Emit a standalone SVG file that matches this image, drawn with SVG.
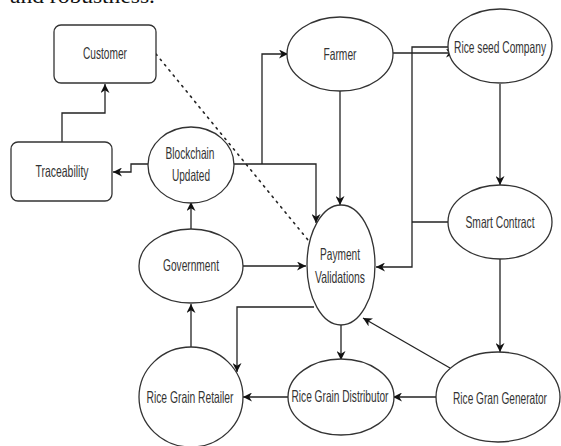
<svg xmlns="http://www.w3.org/2000/svg" width="561" height="446" viewBox="0 0 561 446">
<defs>
<marker id="arr" viewBox="0 0 10 10" refX="10" refY="5" markerWidth="9" markerHeight="9" markerUnits="userSpaceOnUse" orient="auto">
<path d="M0,0 L10,5 L0,10 L3,5 z" fill="#111"/>
</marker>
<style>
.n{fill:#fff;stroke:#333;stroke-width:1.3}
.t{font-family:"Liberation Sans",Arial,sans-serif;font-size:16.5px;fill:#333;text-anchor:middle}
.c{fill:none;stroke:#222;stroke-width:1.3}
.a{marker-end:url(#arr)}
.d{stroke-dasharray:1.6 5.2;stroke-linecap:round;stroke-width:1.6}
</style>
</defs>
<rect width="561" height="446" fill="#fff"/>
<text x="10" y="3" font-family="Liberation Serif,serif" font-size="22" fill="#111" textLength="145" lengthAdjust="spacingAndGlyphs">and robustness.</text>
<g id="connectors">
<path class="c a" d="M62,142 V113 H105 V84"/>
<path class="c a" d="M148,164 H131 V172 H113"/>
<path class="c a" d="M234,164 H316 V223"/>
<path class="c a" d="M262,164 V54 H288"/>
<path class="c a" d="M340,91 V205"/>
<path class="c a" d="M393,53 H455"/>
<path class="c a" d="M448,47 H412 V267 H376"/>
<path class="c" d="M449,222 H412"/>
<path class="c a" d="M500,84 V185"/>
<path class="c a" d="M500,259 V352"/>
<path class="c a" d="M450,368 L363,318"/>
<path class="c a" d="M436,397 H393"/>
<path class="c a" d="M341,325 V360"/>
<path class="c a" d="M314,307 H237 V372"/>
<path class="c a" d="M288,397 H243"/>
<path class="c a" d="M191,347 V304"/>
<path class="c a" d="M243,266 H306"/>
<path class="c a" d="M191,229 V202"/>
<path class="c d" d="M156,54 L308,240"/>
</g>
<g id="customer"><rect class="n" x="54" y="25" width="102" height="58" rx="7"/><text class="t" x="105" y="59" textLength="44" lengthAdjust="spacingAndGlyphs">Customer</text></g>
<g id="traceability"><rect class="n" x="11" y="142" width="101" height="59" rx="7"/><text class="t" x="62" y="177" textLength="53" lengthAdjust="spacingAndGlyphs">Traceability</text></g>
<g id="blockchain"><ellipse class="n" cx="191" cy="165" rx="43" ry="38"/><text class="t" x="190" y="159" textLength="49" lengthAdjust="spacingAndGlyphs">Blockchain</text><text class="t" x="191" y="181" textLength="38" lengthAdjust="spacingAndGlyphs">Updated</text></g>
<g id="farmer"><ellipse class="n" cx="340" cy="54" rx="53" ry="37"/><text class="t" x="340" y="60" textLength="33" lengthAdjust="spacingAndGlyphs">Farmer</text></g>
<g id="riceseed"><ellipse class="n" cx="500" cy="46" rx="52" ry="37"/><text class="t" x="500" y="53" textLength="92" lengthAdjust="spacingAndGlyphs">Rice seed Company</text></g>
<g id="smartcontract"><ellipse class="n" cx="500" cy="222" rx="52" ry="37"/><text class="t" x="500" y="228" textLength="69" lengthAdjust="spacingAndGlyphs">Smart Contract</text></g>
<g id="payment"><ellipse class="n" cx="341" cy="265" rx="34" ry="60"/><text class="t" x="340" y="260" textLength="40" lengthAdjust="spacingAndGlyphs">Payment</text><text class="t" x="340" y="283" textLength="50" lengthAdjust="spacingAndGlyphs">Validations</text></g>
<g id="government"><ellipse class="n" cx="191" cy="266" rx="52" ry="37"/><text class="t" x="191" y="271" textLength="56" lengthAdjust="spacingAndGlyphs">Government</text></g>
<g id="retailer"><ellipse class="n" cx="191" cy="397" rx="52" ry="50"/><text class="t" x="190" y="403" textLength="87" lengthAdjust="spacingAndGlyphs">Rice Grain Retailer</text></g>
<g id="distributor"><ellipse class="n" cx="341" cy="397" rx="53" ry="38"/><text class="t" x="340" y="402" textLength="97" lengthAdjust="spacingAndGlyphs">Rice Grain Distributor</text></g>
<g id="generator"><ellipse class="n" cx="498" cy="397" rx="62" ry="45"/><text class="t" x="500" y="404" textLength="94" lengthAdjust="spacingAndGlyphs">Rice Gran Generator</text></g>
</svg>
